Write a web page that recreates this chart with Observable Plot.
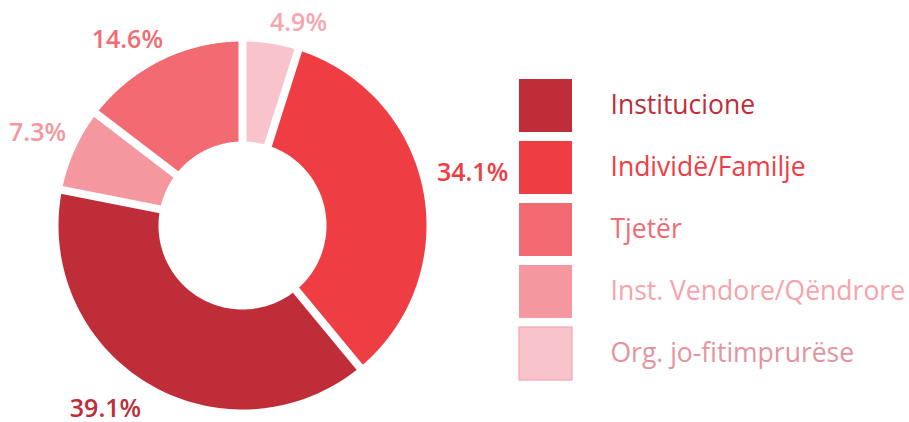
<!DOCTYPE html>
<html><head><meta charset="utf-8">
<script src="https://cdn.jsdelivr.net/npm/d3@7"></script>
<script src="https://cdn.jsdelivr.net/npm/@observablehq/plot@0.6"></script>
<style>body{margin:0;background:#fff;font-family:"Open Sans",sans-serif}</style>
</head><body><div id="chart"></div>
<script>
// ---- data ----
const categories = ["Institucione", "Individë/Familje", "Tjetër", "Inst. Vendore/Qëndrore", "Org. jo-fitimprurëse"];
const shares = [39.1, 34.1, 14.6, 7.3, 4.9];
// clockwise order of slices starting at 12 o'clock
const sliceOrder = ["Org. jo-fitimprurëse", "Individë/Familje", "Institucione", "Inst. Vendore/Qëndrore", "Tjetër"];

// ---- styles ----
const sliceColors = ["#BF2D39", "#EE3E43", "#F26A72", "#F4979E", "#F8C3CB"];
const labelColors = ["#BF2D39", "#EE3E43", "#F26A72", "#F4979E", "#F5A6B0"];
const legendTextColors = ["#BF2D39", "#EE3E43", "#F26A72", "#F6A3AA", "#E3949D"];

// ---- layout ----
const W = 909, H = 422;
const cx = 242, cy = 225, rOuter = 184, rInner = 84, gap = 8, labelR = 215;
// small hand nudges of the value labels away from the slice mid-angle (px), per category
const labelNudge = [[-27, -1], [19, -12], [-20, 7], [-9, -4], [23, 10]];
const legX = 519, legTop = 79, legSize = 53, legStep = 62, legTextX = 610;

const valueOf = Object.fromEntries(categories.map((c, i) => [c, shares[i]]));
const idx = Object.fromEntries(categories.map((c, i) => [c, i]));
const total = d3.sum(shares);
const px = (a, r) => cx + r * Math.sin(a);
const py = (a, r) => cy - r * Math.cos(a);

let acc = 0;
const slices = sliceOrder.map(key => {
  const v = valueOf[key];
  const a0 = acc / total * 2 * Math.PI;
  acc += v;
  const a1 = acc / total * 2 * Math.PI;
  return {key, value: v, a0, a1, mid: (a0 + a1) / 2, i: idx[key]};
});

const pts = [];
for (const s of slices) {
  const n = 90;
  const ring = [];
  for (let k = 0; k <= n; k++) { const a = s.a0 + (s.a1 - s.a0) * k / n; ring.push([px(a, rOuter), py(a, rOuter)]); }
  for (let k = n; k >= 0; k--) { const a = s.a0 + (s.a1 - s.a0) * k / n; ring.push([px(a, rInner), py(a, rInner)]); }
  ring.push(ring[0]);
  for (const [x, y] of ring) pts.push({key: s.key, i: s.i, x, y});
}

const legend = categories.map((c, i) => ({key: c, i}));

const plot = Plot.plot({
  width: W, height: H,
  margin: 0,
  x: {domain: [0, W], range: [0, W], axis: null},
  y: {domain: [0, H], range: [0, H], axis: null},
  color: {type: "identity"},
  style: {fontFamily: "'Open Sans', sans-serif", background: "#fff"},
  marks: [
    Plot.line(pts, {x: "x", y: "y", z: "key", fill: d => sliceColors[d.i], stroke: null, curve: "linear"}),
    Plot.link(slices, {
      x1: d => px(d.a0, rInner - 3), y1: d => py(d.a0, rInner - 3),
      x2: d => px(d.a0, rOuter + 3), y2: d => py(d.a0, rOuter + 3),
      stroke: "white", strokeWidth: gap, strokeLinecap: "butt"
    }),
    Plot.text(slices, {
      x: d => px(d.mid, labelR) + labelNudge[d.i][0],
      y: d => py(d.mid, labelR) + labelNudge[d.i][1],
      text: d => d.value.toFixed(1) + "%",
      fill: d => labelColors[d.i], fontSize: 25, fontWeight: 600, textAnchor: "middle"
    }),
    Plot.rect(legend, {
      x1: legX, x2: legX + legSize,
      y1: d => legTop + d.i * legStep, y2: d => legTop + d.i * legStep + legSize,
      fill: d => sliceColors[d.i],
      stroke: d => d.i === 4 ? "#F2A7B0" : "none", strokeWidth: 1.2
    }),
    Plot.text(legend, {
      x: legTextX, y: d => legTop + d.i * legStep + legSize / 2,
      text: "key", textAnchor: "start", fontSize: 26.5,
      fill: d => legendTextColors[d.i]
    })
  ]
});
document.getElementById("chart").appendChild(plot);
</script>
</body></html>
